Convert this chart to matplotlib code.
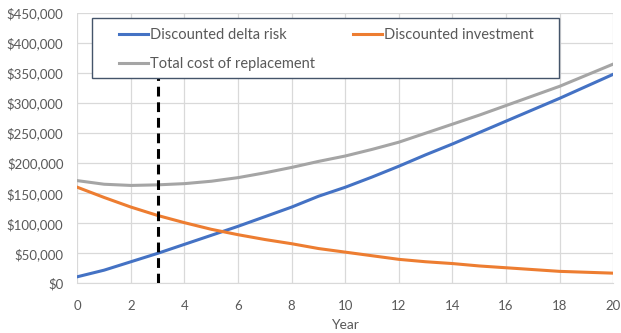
import matplotlib
matplotlib.use("Agg")
import matplotlib.pyplot as plt
from matplotlib.patches import Rectangle
from matplotlib.ticker import FuncFormatter, MultipleLocator

# values (dollars)
years = list(range(0, 21))
delta_risk = [11000, 22000, 36000, 50000, 65000, 80000, 95000, 111000, 127000, 145000,
              160000, 177000, 195000, 214000, 232000, 251000, 270000, 289000, 308000,
              328000, 348000]
investment = [160000, 143000, 127000, 113000, 101000, 90000, 81000, 73000, 66000, 58000,
              52000, 46000, 40000, 36000, 33000, 29000, 26000, 23000, 20000, 18500, 17000]
total_cost = [171000, 165000, 163000, 164000, 166000, 170000, 176000, 184000, 193000,
              203000, 212000, 223000, 235000, 250000, 265000, 280000, 296000, 312000,
              328000, 346500, 365000]
replacement_year = 3

plt.rcParams['font.family'] = ['Lato', 'DejaVu Sans']

W, H = 621, 333
fig = plt.figure(figsize=(W / 100, H / 100), dpi=100)
ax = fig.add_axes([0.1245, 0.149, 0.863, 0.812])

tick_col = '#595959'
ax.plot(years, delta_risk, color='#4472C4', lw=2.2, label='Discounted delta risk', zorder=3)
ax.plot(years, investment, color='#ED7D31', lw=2.2, label='Discounted investment', zorder=3)
ax.plot(years, total_cost, color='#A5A5A5', lw=2.2, label='Total cost of replacement', zorder=3)
ax.vlines(replacement_year, 0, 380000, color='black', lw=2.2,
          linestyle=(0, (3.2, 1.9)), zorder=4)

ax.set_xlim(0, 20)
ax.set_ylim(0, 450000)
ax.xaxis.set_major_locator(MultipleLocator(2))
ax.yaxis.set_major_locator(MultipleLocator(50000))
ax.yaxis.set_major_formatter(FuncFormatter(lambda v, p: '${:,.0f}'.format(v)))
ax.grid(True, color='#D9D9D9', lw=0.9)
ax.set_axisbelow(True)
for s in ['top', 'right', 'left']:
    ax.spines[s].set_visible(False)
ax.spines['bottom'].set_color('#D9D9D9')
ax.tick_params(length=0, labelsize=9.5, colors=tick_col)
ax.tick_params(axis='x', pad=12)
ax.tick_params(axis='y', pad=10)
ax.set_xlabel('Year', fontsize=10, color=tick_col, labelpad=5)

# legend box (frame drawn separately so the padding can match)
box = Rectangle((91.7 / W, 1 - 78.3 / H), (559 - 91.7) / W, (78.3 - 18.3) / H,
                transform=fig.transFigure, facecolor='white', edgecolor='#44546A',
                lw=1.0, clip_on=False, zorder=9)
ax.add_patch(box)

h, l = ax.get_legend_handles_labels()
order = [0, 2, 1]
leg = ax.legend([h[i] for i in order], [l[i] for i in order], ncol=2,
                loc='upper left', bbox_to_anchor=(119 / W, 1 - 28 / H),
                bbox_transform=fig.transFigure, borderaxespad=0, borderpad=0,
                fontsize=10.5, frameon=False, handlelength=2.0, handletextpad=0.16,
                labelspacing=1.05, columnspacing=2.55, labelcolor=tick_col)
leg.set_zorder(10)

fig.savefig('out.png', dpi=100)
